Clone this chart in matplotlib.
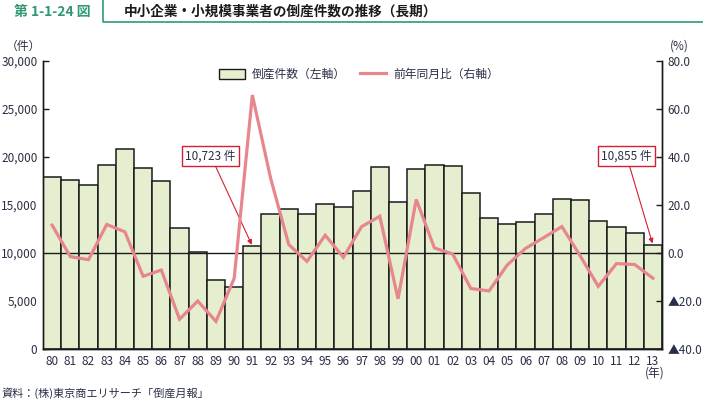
import matplotlib
matplotlib.use("Agg")
import matplotlib.pyplot as plt
from matplotlib.lines import Line2D
from matplotlib.patches import Patch
from matplotlib.ticker import FuncFormatter

plt.rcParams["font.family"] = ["Noto Sans CJK JP", "DejaVu Sans"]

# --- data ---
years = ["80", "81", "82", "83", "84", "85", "86", "87", "88", "89",
         "90", "91", "92", "93", "94", "95", "96", "97", "98", "99",
         "00", "01", "02", "03", "04", "05", "06", "07", "08", "09",
         "10", "11", "12", "13"]
bankruptcies = [17884, 17610, 17122, 19155, 20841, 18812, 17476, 12655, 10122, 7234,
                6468, 10723, 14069, 14564, 14061, 15108, 14834, 16464, 18988, 15352,
                18769, 19164, 19087, 16255, 13679, 12998, 13245, 14091, 15646, 15480,
                13321, 12734, 12124, 10855]
yoy_pct = [11.6, -1.5, -2.8, 11.9, 8.8, -9.7, -7.1, -27.6, -20.0, -28.5,
           -10.6, 65.8, 31.2, 3.5, -3.5, 7.4, -1.8, 11.0, 15.3, -19.1,
           22.3, 2.1, -0.4, -14.8, -15.8, -5.0, 1.9, 6.4, 11.0, -1.1,
           -13.9, -4.4, -4.8, -10.5]
callouts = {"91": "10,723 件", "13": "10,855 件"}

BAR_COLOR = "#e5efcf"
LINE_COLOR = "#e8868e"
TEXT_COLOR = "#2b2f45"
GREEN = "#2f9a72"
RED = "#d42030"

fig = plt.figure(figsize=(7.03, 4.01), dpi=100)
W, H = 703, 401
ax = fig.add_axes([43 / W, 1 - 349 / H, (662 - 43) / W, (349 - 61) / H])
ax2 = ax.twinx()

x = range(len(years))
ax.bar(x, bankruptcies, width=1.0, color=BAR_COLOR, edgecolor="#1a1a1a",
       linewidth=1.1, zorder=2)
ax.axhline(10000, color="#1a1a1a", lw=1.0, zorder=3)
ax.set_xlim(-0.5, len(years) - 0.5)
ax.set_ylim(0, 30000)
ax.set_yticks(range(0, 30001, 5000))
ax.yaxis.set_major_formatter(FuncFormatter(lambda v, p: f"{int(v):,}"))
ax.set_xticks(list(x))
ax.set_xticklabels(years)

ax2.plot(x, yoy_pct, color=LINE_COLOR, lw=2.3, zorder=4, solid_joinstyle="miter")
ax2.set_ylim(-40, 80)
ax2.set_yticks(range(-40, 81, 20))
ax2.yaxis.set_major_formatter(
    FuncFormatter(lambda v, p: f"▲{abs(v):.1f}" if v < 0 else f"{v:.1f}"))

for a in (ax, ax2):
    a.spines["top"].set_visible(False)
    for s in ("left", "right", "bottom"):
        a.spines[s].set_color("#1a1a1a")
        a.spines[s].set_linewidth(1.0)
    a.tick_params(axis="y", direction="in", length=4, width=1.0,
                  colors="#1a1a1a", labelcolor=TEXT_COLOR, labelsize=8.5, pad=4)
ax.tick_params(axis="x", length=0, labelcolor=TEXT_COLOR, labelsize=8.5, pad=4)
ax.set_zorder(1)
ax2.set_zorder(2)
ax.patch.set_visible(False)

# callout boxes with arrows
for label, text in callouts.items():
    i = years.index(label)
    offset = (-30, 65) if label == "91" else (-19, 64)
    ax.annotate(text, xy=(i, bankruptcies[i]), xytext=offset,
                textcoords="offset points", ha="center", va="center",
                fontsize=8.5, color=TEXT_COLOR, zorder=6,
                bbox=dict(boxstyle="square,pad=0.3", fc="white", ec=RED, lw=1.0),
                arrowprops=dict(arrowstyle="-|>", color=RED, lw=0.8,
                                mutation_scale=7, shrinkA=0, shrinkB=1))

# legend
handles = [Patch(facecolor=BAR_COLOR, edgecolor="#1a1a1a", linewidth=1.0),
           Line2D([0], [0], color=LINE_COLOR, lw=2.3)]
leg = ax2.legend(handles, ["倒産件数（左軸）", "前年同月比（右軸）"], ncol=2,
                 loc="upper center", bbox_to_anchor=(0.51, 1.0), frameon=False,
                 fontsize=8.5, handlelength=2.2, handleheight=1.0,
                 columnspacing=1.2, handletextpad=0.6, borderaxespad=0.2)
for t in leg.get_texts():
    t.set_color(TEXT_COLOR)

# axis unit labels
fig.text(23 / W, 1 - 46 / H, "（件）", ha="center", va="center", fontsize=8.5, color=TEXT_COLOR)
fig.text(679 / W, 1 - 46 / H, "(%)", ha="center", va="center", fontsize=8.5, color=TEXT_COLOR)
fig.text(655 / W, 1 - 373 / H, "(年)", ha="center", va="center", fontsize=8.5, color=TEXT_COLOR)

# header
fig.text(14 / W, 1 - 12 / H, "第 1-1-24 図", ha="left", va="center",
         fontsize=10, fontweight="bold", color=GREEN)
fig.text(124 / W, 1 - 12 / H, "中小企業・小規模事業者の倒産件数の推移（長期）",
         ha="left", va="center", fontsize=9.8, fontweight="bold", color="#1a1a1a")
fig.add_artist(Line2D([103 / W, 103 / W, 1.0], [1.0, 1 - 22 / H, 1 - 22 / H],
                      transform=fig.transFigure, color=GREEN, lw=1.2))

# source
fig.text(2 / W, 1 - 393 / H, "資料：(株)東京商エリサーチ「倒産月報」", ha="left",
         va="center", fontsize=8, color=TEXT_COLOR)

fig.savefig("out.png", dpi=100)
